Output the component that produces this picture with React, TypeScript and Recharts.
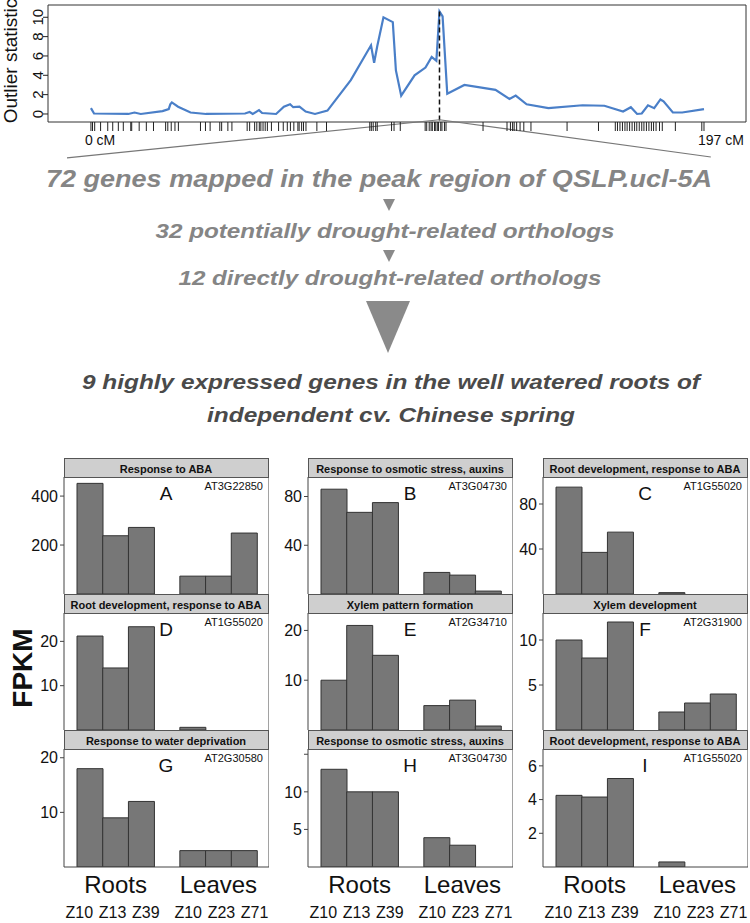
import React from 'react'
import { LineChart, Line, XAxis, YAxis, ReferenceLine, ReferenceArea, BarChart, Bar } from 'recharts'

const FONT = '"Liberation Sans", Arial, sans-serif'

// outlier scan along the chromosome (cM / statistic)
const scanCM = [0, 1, 12, 14, 16, 23, 25, 25.5, 26, 28, 32, 37, 49.5, 51, 52, 54, 55, 59.5, 62, 64, 65, 67, 69, 72, 76, 83.5, 90, 91, 92, 94, 97, 98, 99.7, 104, 107.5, 109.5, 111, 112, 113, 114.5, 120, 130, 134.5, 136.5, 140, 147, 158, 165, 171, 173.5, 175.5, 177, 179, 181, 183, 184, 187, 190, 197]
const scanStat = [0.6, 0.05, 0, 0.15, 0, 0.3, 0.5, 1.0, 1.2, 0.75, 0.15, 0, 0.05, 0.2, 0, 0.4, 0.1, 0, 0.75, 1.0, 0.7, 0.75, 0.25, 0, 0.35, 3.5, 7.1, 5.3, 7.0, 10.0, 9.5, 4.5, 1.9, 4.0, 4.8, 5.9, 5.5, 10.6, 10.1, 2.1, 3.0, 2.5, 1.55, 1.9, 1.0, 0.6, 0.9, 0.85, 0.25, 0.7, 0, 0.05, 0.9, 0.6, 1.5, 1.3, 0.15, 0.15, 0.5]
const markerCM = [0, 0.5, 1.2, 3.1, 5.4, 7.0, 8.8, 10.4, 12.8, 13.1, 15.5, 17.8, 20.1, 24.0, 24.7, 25.8, 27.0, 28.1, 35.2, 36.8, 38.3, 41.4, 42.0, 44.0, 45.3, 50.2, 51.0, 52.6, 53.3, 54.1, 54.6, 55.3, 56.0, 56.7, 58.0, 60.3, 61.8, 63.1, 64.1, 65.2, 66.5, 66.9, 67.7, 68.3, 69.1, 72.6, 75.7, 89.6, 90.1, 90.7, 91.5, 92.0, 96.6, 97.4, 99.4, 107.4, 107.9, 108.7, 109.3, 109.7, 110.4, 110.8, 111.3, 111.7, 112.4, 112.8, 113.6, 114.1, 126.0, 133.7, 134.8, 135.5, 136.0, 136.8, 137.9, 139.1, 141.4, 153.0, 163.1, 168.5, 169.2, 170.0, 170.8, 171.6, 172.3, 173.1, 173.9, 174.7, 175.4, 176.2, 177.0, 177.7, 178.5, 179.3, 180.1, 180.8, 181.6, 182.7, 183.6, 187.8, 196.3, 197]
const peakCM = 112
const scanTicks = [0, 2, 4, 6, 8, 10]

// expression panels
const stageKeys = ['Roots Z10', 'Roots Z13', 'Roots Z39', 'gap', 'Leaves Z10', 'Leaves Z23', 'Leaves Z71']
const stageLabels = ['Z10', 'Z13', 'Z39', '', 'Z10', 'Z23', 'Z71']
const groupTitles = ['', 'Roots', '', '', '', 'Leaves', '']
const labelShift = [-10.5, -3, 4.5, 0, -4.5, 3, 10.5]

const panelLetters = ['A', 'B', 'C', 'D', 'E', 'F', 'G', 'H', 'I']
const panelTitles = [
  'Response to ABA', 'Response to osmotic stress, auxins', 'Root development, response to ABA',
  'Root development, response to ABA', 'Xylem pattern formation', 'Xylem development',
  'Response to water deprivation', 'Response to osmotic stress, auxins', 'Root development, response to ABA',
]
const geneIds = ['AT3G22850', 'AT3G04730', 'AT1G55020', 'AT1G55020', 'AT2G34710', 'AT2G31900', 'AT2G30580', 'AT3G04730', 'AT1G55020']

const fpkmA = [452, 238, 272, null, 73, 73, 249]
const fpkmB = [86, 67, 75, null, 17.7, 15.5, 2.4]
const fpkmC = [95, 37, 55, null, 1.2, 0, 0]
const fpkmD = [21.2, 14, 23.3, null, 0.6, 0, 0]
const fpkmE = [10, 21, 15, null, 4.9, 6, 0.8]
const fpkmF = [10, 8, 12, null, 2, 3, 4]
const fpkmG = [18, 9, 12, null, 3, 3, 3]
const fpkmH = [13, 10, 10, null, 3.9, 2.9, 0]
const fpkmI = [4.25, 4.15, 5.25, null, 0.3, 0, 0]
const panelValues = [fpkmA, fpkmB, fpkmC, fpkmD, fpkmE, fpkmF, fpkmG, fpkmH, fpkmI]

const yMax = [478, 96, 104, 26.4, 23.5, 13, 21.6, 15.7, 7.0]
const yTicks = [[200, 400], [40, 80], [40, 80], [10, 20], [10, 20], [5, 10], [10, 20], [5, 10, 15], [2, 4, 6]]
const unlabeledTicks = [[], [], [], [], [], [], [], [15], []]

const COL_LEFT = [64, 308, 543]
const ROW_TOP = [458, 594, 730]
const PANEL_W = 204
const HEADER_H = 19
const PLOT_H = [117, 117, 118]

const scanData = scanCM.map((cM, i) => ({ cM, stat: scanStat[i] }))

const RugTick = (props: any) => {
  const { x, y, payload } = props
  const v = payload.value
  if (v !== 0 && v !== 197) return <g />
  return (
    <text x={x - 6} y={y + 9} fontSize={14} fill="#111" fontFamily={FONT} dominantBaseline="central">
      {`${v} cM`}
    </text>
  )
}

const RotTick = (props: any) => {
  const { x, y, payload } = props
  return (
    <text x={x + 2} y={y} transform={`rotate(-90 ${x + 2} ${y})`} textAnchor="middle" fontSize={15} fill="#111" fontFamily={FONT}>
      {payload.value}
    </text>
  )
}

const StageTick = (props: any) => {
  const { x, y, payload } = props
  const i = stageKeys.indexOf(payload.value)
  if (i < 0 || !stageLabels[i]) return <g />
  return (
    <g fontFamily={FONT} fill="#111">
      <text x={x + labelShift[i]} y={y + 45} textAnchor="middle" dominantBaseline="central" fontSize={16}>
        {stageLabels[i]}
      </text>
      {groupTitles[i] ? (
        <text x={x} y={y + 17} textAnchor="middle" dominantBaseline="central" fontSize={24}>
          {groupTitles[i]}
        </text>
      ) : null}
    </g>
  )
}

function Panel({ idx }: { idx: number }) {
  const col = idx % 3
  const row = Math.floor(idx / 3)
  const isBottom = row === 2
  const xH = isBottom ? 56 : 0
  const data = stageKeys.map((key, i) => ({ key, value: panelValues[idx][i] }))
  const hidden = unlabeledTicks[idx]
  return (
    <div style={{ position: 'absolute', left: COL_LEFT[col] - 50, top: ROW_TOP[row] + HEADER_H }}>
      <BarChart
        width={50 + PANEL_W + 1}
        height={PLOT_H[row] + xH}
        data={data}
        margin={{ top: 0, right: 0, bottom: 0, left: 0 }}
        barCategoryGap={0}
        barGap={0}
      >
        <XAxis
          dataKey="key"
          height={xH}
          padding={{ left: 13, right: 12 }}
          interval={0}
          tickLine={false}
          tickSize={0}
          tickMargin={0}
          axisLine={{ stroke: '#444' }}
          tick={isBottom ? <StageTick /> : false}
        />
        <YAxis
          yAxisId="l"
          width={50}
          type="number"
          domain={[0, yMax[idx]]}
          allowDataOverflow
          ticks={yTicks[idx]}
          interval={0}
          tickSize={4}
          tickMargin={2}
          axisLine={{ stroke: '#444' }}
          tickLine={{ stroke: '#444' }}
          tick={{ fill: '#111', fontSize: 16, fontFamily: FONT }}
          tickFormatter={(v: number) => (hidden.includes(v) ? '' : String(v))}
        />
        <YAxis
          yAxisId="r"
          orientation="right"
          mirror
          width={1}
          type="number"
          domain={[0, yMax[idx]]}
          allowDataOverflow
          ticks={yTicks[idx]}
          interval={0}
          tickSize={4}
          axisLine={{ stroke: '#444' }}
          tickLine={{ stroke: '#444' }}
          tick={false}
        />
        <Bar yAxisId="l" dataKey="value" fill="#777777" stroke="#333" strokeWidth={1} isAnimationActive={false} />
      </BarChart>
    </div>
  )
}

export default function App() {
  return (
    <div style={{ position: 'absolute', left: 0, top: 0, width: 750, height: 923, background: '#fff', fontFamily: FONT }}>
      <div style={{ position: 'absolute', left: 0, top: 0 }}>
        <LineChart width={750} height={170} data={scanData} margin={{ top: 5, right: 4, bottom: 18, left: 0 }}>
          <XAxis
            dataKey="cM"
            type="number"
            domain={[-13.8, 210.5]}
            allowDataOverflow
            ticks={markerCM}
            interval={0}
            height={30}
            tickSize={9}
            tickMargin={0}
            axisLine={false}
            tickLine={{ stroke: '#222' }}
            tick={<RugTick />}
          />
          <YAxis
            type="number"
            domain={[-0.83, 11.27]}
            allowDataOverflow
            ticks={scanTicks}
            interval={0}
            width={48}
            tickSize={5}
            tickMargin={2}
            axisLine={false}
            tickLine={{ stroke: '#222' }}
            tick={<RotTick />}
          />
          <ReferenceArea x1={-13.8} x2={210.5} y1={-0.83} y2={11.27} fill="none" stroke="#333" strokeWidth={1} ifOverflow="visible" />
          <Line type="linear" dataKey="stat" stroke="#4a7fc8" strokeWidth={2.2} dot={false} isAnimationActive={false} />
          <ReferenceLine segment={[{ x: peakCM, y: 10.6 }, { x: peakCM, y: -0.7 }]} stroke="#111" strokeWidth={1.5} strokeDasharray="5 3" ifOverflow="visible" />
          <ReferenceLine segment={[{ x: peakCM, y: -0.6 }, { x: -7.7, y: -4.55 }]} stroke="#777" strokeWidth={1.2} ifOverflow="visible" />
          <ReferenceLine segment={[{ x: peakCM, y: -0.6 }, { x: 199.2, y: -4.45 }]} stroke="#777" strokeWidth={1.2} ifOverflow="visible" />
        </LineChart>
      </div>

      {panelValues.map((_, i) => (
        <Panel key={i} idx={i} />
      ))}

      <svg width={750} height={923} style={{ position: 'absolute', left: 0, top: 0, pointerEvents: 'none' }} fontFamily={FONT}>
        <text x={17} y={61} transform="rotate(-90 17 61)" textAnchor="middle" fontSize={19} fill="#111">
          Outlier statistic
        </text>

        <g fontWeight="bold" fontStyle="italic" textAnchor="middle" dominantBaseline="central">
          <text x={379} y={178} fontSize={24} fill="#858585" textLength={666} lengthAdjust="spacingAndGlyphs">
            72 genes mapped in the peak region of QSLP.ucl-5A
          </text>
          <text x={385} y={230} fontSize={21} fill="#858585" textLength={459} lengthAdjust="spacingAndGlyphs">
            32 potentially drought-related orthologs
          </text>
          <text x={390} y={277} fontSize={21} fill="#858585" textLength={423} lengthAdjust="spacingAndGlyphs">
            12 directly drought-related orthologs
          </text>
          <text x={391} y={381} fontSize={21} fill="#4a4a4a" textLength={618} lengthAdjust="spacingAndGlyphs">
            9 highly expressed genes in the well watered roots of
          </text>
          <text x={391} y={414} fontSize={21} fill="#4a4a4a" textLength={368} lengthAdjust="spacingAndGlyphs">
            independent cv. Chinese spring
          </text>
        </g>
        <polygon points="383,199 395,199 389,211" fill="#8a8a8a" />
        <polygon points="383,250 395,250 389,262" fill="#8a8a8a" />
        <polygon points="366,301 410,301 388,353" fill="#8a8a8a" />

        <text x={22} y={668} transform="rotate(-90 22 668)" textAnchor="middle" dominantBaseline="central" fontSize={28} fontWeight="bold" fill="#111">
          FPKM
        </text>

        {panelTitles.map((title, i) => {
          const left = COL_LEFT[i % 3]
          const top = ROW_TOP[Math.floor(i / 3)]
          const plotTop = top + HEADER_H
          return (
            <g key={i}>
              <rect x={left + 0.5} y={top + 0.5} width={PANEL_W} height={HEADER_H} fill="#cfcfcf" stroke="#555" strokeWidth={1} />
              <text x={left + PANEL_W / 2} y={top + HEADER_H / 2 + 1} textAnchor="middle" dominantBaseline="central" fontSize={11} fontWeight="bold" fill="#111">
                {title}
              </text>
              <text x={left + 102} y={plotTop + 16} textAnchor="middle" dominantBaseline="central" fontSize={19} fill="#111">
                {panelLetters[i]}
              </text>
              <text x={left + 199} y={plotTop + 9} textAnchor="end" dominantBaseline="central" fontSize={11} fill="#111">
                {geneIds[i]}
              </text>
            </g>
          )
        })}
      </svg>
    </div>
  )
}
